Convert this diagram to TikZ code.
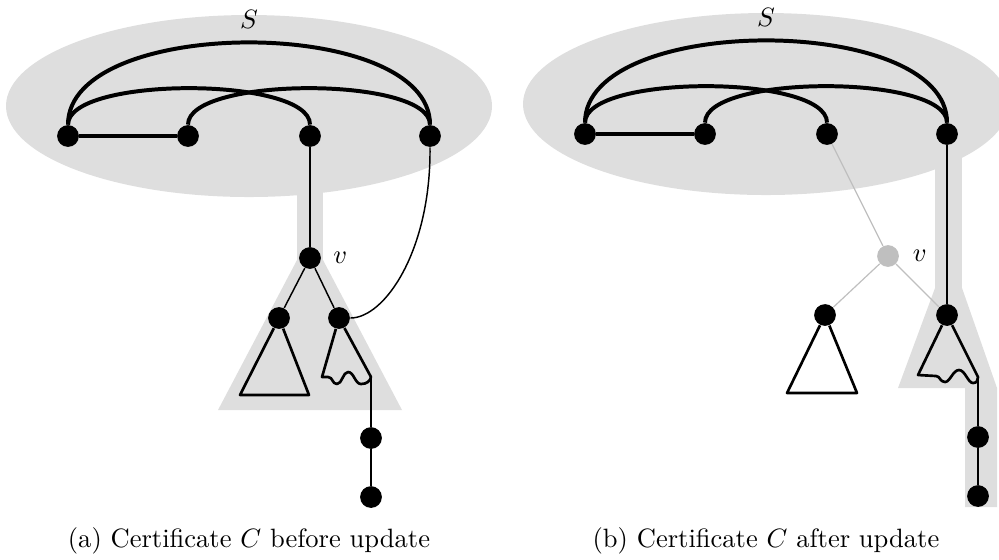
\documentclass[tikz,border=0pt]{standalone}

\tikzset{
  vtx/.style={circle, fill=black, inner sep=0pt, minimum size=8.2pt},
  ghost/.style={circle, fill=black!25, inner sep=0pt, minimum size=8.2pt},
  sedge/.style={line width=1.5pt},
  tedge/.style={line width=0.55pt},
  gedge/.style={line width=0.45pt, black!25},
  subtree/.style={line width=1pt, line join=round},
  cert/.style={fill=black!13},
}

\begin{document}
\begin{tikzpicture}[x=0.377pt, y=-0.377pt]
    \useasboundingbox (0,0) rectangle (999,559);

    % Certificate before update (left)
    \begin{scope}
        \fill[cert] (249,106) ellipse [x radius=243, y radius=91];
        \fill[cert] (297,180) rectangle (323,262);
        \fill[cert] (297,260) -- (323,260) -- (402,410) -- (218,410) -- cycle;
        \node (ls) at (249,19) {$S$};

        \node[vtx] (l1) at (68,136) {};
        \node[vtx] (l2) at (188,136) {};
        \node[vtx] (l3) at (310,136) {};
        \node[vtx] (l4) at (430,136) {};
        \node[vtx, label={[label distance=1pt]right:$v$}] (lv) at (310,258) {};
        \node[vtx] (la) at (279,318) {};
        \node[vtx] (lb) at (339,318) {};
        \node[vtx] (lc) at (371,438) {};
        \node[vtx] (ld) at (371,497) {};
        \coordinate (lw) at (371,377);

        \draw[sedge] (l1) -- (l2);
        \draw[sedge] (l1.north) .. controls (68,15) and (430,15) .. (l4.north);
        \draw[sedge] (l1.north) .. controls (68,76) and (310,76) .. (l3.north);
        \draw[sedge] (l2.north) .. controls (188,76) and (430,76) .. (l4.north);

        \draw[tedge] (l3) -- (lv);
        \draw[tedge] (la) -- (lv) -- (lb);
        \draw[tedge] (l4.south) .. controls (431,250) and (385,318) .. (lb.east);
        \draw[tedge] (lw) -- (lc) -- (ld);

        % subtrees below v
        \draw[subtree] (la) -- (240,395) -- (309,395) -- (la);
        \draw[subtree] (lb) -- (322,377) -- (328,377)
            .. controls (333,377) and (332,384) .. (337,384)
            .. controls (342,384) and (343,372) .. (348,372)
            .. controls (354,372) and (355,384) .. (361,384)
            .. controls (367,384) and (370,381) .. (lw) -- (lb);

        \node (capa) at (249,541) {(a) Certificate $C$ before update};
    \end{scope}

    % Certificate after update (right)
    \begin{scope}
        \fill[cert] (766,104) ellipse [x radius=243, y radius=91];
        \fill[cert] (935,140) rectangle (962,290);
        \fill[cert] (935,288) -- (962,288) -- (997,388) -- (997,507)
            -- (965,507) -- (965,388) -- (898,388) -- cycle;
        \node (rs) at (766,17) {$S$};

        \node[vtx] (r1) at (585,134) {};
        \node[vtx] (r2) at (705,134) {};
        \node[vtx] (r3) at (827,134) {};
        \node[vtx] (r4) at (947,134) {};
        \node[ghost, label={[label distance=1.5pt]right:$v$}] (rv) at (888,256) {};
        \node[vtx] (ra) at (825,315) {};
        \node[vtx] (rb) at (947,315) {};
        \node[vtx] (rc) at (978,437) {};
        \node[vtx] (rd) at (978,496) {};
        \coordinate (rw) at (978,377);

        \draw[sedge] (r1) -- (r2);
        \draw[sedge] (r1.north) .. controls (585,13) and (947,13) .. (r4.north);
        \draw[sedge] (r1.north) .. controls (585,74) and (827,74) .. (r3.north);
        \draw[sedge] (r2.north) .. controls (705,74) and (947,74) .. (r4.north);

        \draw[gedge] (r3) -- (rv);
        \draw[gedge] (ra) -- (rv) -- (rb);
        \draw[tedge] (r4) -- (rb);
        \draw[tedge] (rw) -- (rc) -- (rd);

        % subtrees below v
        \draw[subtree] (ra) -- (787,393) -- (857,393) -- (ra);
        \draw[subtree] (rb) -- (918,375) -- (936,376)
            .. controls (940,376) and (940,382) .. (945,382)
            .. controls (950,382) and (953,370) .. (959,370)
            .. controls (965,370) and (968,383) .. (973,383)
            .. controls (977,383) and (978,380) .. (rw) -- (rb);

        \node (capb) at (766,541) {(b) Certificate $C$ after update};
    \end{scope}
\end{tikzpicture}
\end{document}
